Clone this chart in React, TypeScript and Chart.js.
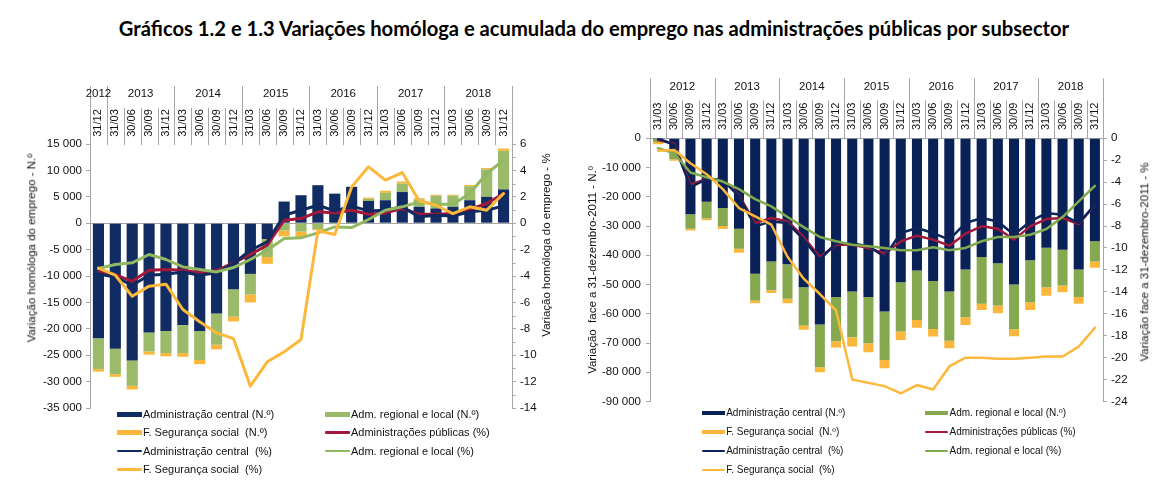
import React, { useEffect, useRef, useMemo } from 'react';
import { Chart, registerables } from 'chart.js';

Chart.register(...registerables);

// ---------------- Left chart: variação homóloga ----------------
const leftDates = ['31/12', '31/03', '30/06', '30/09', '31/12', '31/03', '30/06', '30/09', '31/12', '31/03', '30/06', '30/09', '31/12', '31/03', '30/06', '30/09', '31/12', '31/03', '30/06', '30/09', '31/12', '31/03', '30/06', '30/09', '31/12'];
const leftYears = ['2012', '2013', '2014', '2015', '2016', '2017', '2018'];
const leftYearSpans = [1, 4, 4, 4, 4, 4, 4];
const leftCentralN = [-21800, -23800, -26000, -20700, -20400, -19300, -20400, -17100, -12500, -9600, -3000, 4100, 5300, 7200, 5600, 6900, 4200, 4350, 5900, 3100, 2800, 3100, 4350, 5000, 6400];
const leftRegionalN = [-5800, -4800, -4800, -3600, -4200, -5300, -5500, -5900, -5200, -3900, -3400, -1400, -1600, -1100, -200, 0, 400, 1400, 1600, 1400, 2400, 2100, 2650, 5200, 7300];
const leftSSN = [-500, -500, -700, -600, -600, -700, -800, -900, -900, -1500, -1300, -1100, -1000, -200, 0, 0, 250, 400, 400, 250, 200, 200, 250, 250, 450];
const leftPubPct = [-3.7, -3.9, -4.4, -3.56, -3.5, -3.56, -3.76, -3.6, -3.0, -2.37, -1.67, 0.23, 0.35, 0.86, 0.78, 0.98, 0.68, 0.78, 1.11, 0.68, 0.68, 0.73, 1.04, 1.49, 2.25];
const leftCentralPct = [-3.85, -4.07, -4.7, -3.94, -3.86, -3.69, -3.94, -3.76, -3.05, -2.05, -1.41, 0.6, 0.98, 1.36, 0.93, 1.29, 0.93, 0.98, 1.24, 0.48, 0.61, 0.55, 0.86, 0.98, 1.31];
const leftRegionalPct = [-3.43, -3.13, -3.0, -2.37, -2.75, -3.31, -3.51, -3.69, -3.36, -2.75, -2.05, -1.16, -1.11, -0.73, -0.28, -0.33, 0.28, 0.98, 1.24, 1.62, 1.44, 1.44, 2.25, 3.76, 4.77];
const leftSSPct = [-3.4, -3.94, -5.53, -4.77, -4.62, -6.54, -7.47, -8.31, -8.74, -12.35, -10.5, -9.75, -8.81, -0.58, -0.86, 2.75, 4.27, 3.26, 3.84, 1.69, 1.36, 0.73, 1.24, 0.98, 2.25];

// ---------------- Right chart: variação acumulada ----------------
const rightDates = ['31/03', '30/06', '30/09', '31/12', '31/03', '30/06', '30/09', '31/12', '31/03', '30/06', '30/09', '31/12', '31/03', '30/06', '30/09', '31/12', '31/03', '30/06', '30/09', '31/12', '31/03', '30/06', '30/09', '31/12', '31/03', '30/06', '30/09', '31/12'];
const rightYears = ['2012', '2013', '2014', '2015', '2016', '2017', '2018'];
const rightYearSpans = [4, 4, 4, 4, 4, 4, 4];
const rightCentralN = [-300, -4200, -26000, -21700, -23800, -30900, -46300, -42100, -43100, -50900, -63700, -54300, -52400, -54300, -59200, -49200, -45200, -48800, -52400, -44900, -40600, -42700, -50000, -41700, -37400, -38100, -44900, -35200];
const rightRegionalN = [-1000, -3000, -4900, -5700, -6200, -6900, -9200, -9900, -11800, -13100, -14600, -15100, -15600, -15800, -16600, -16900, -16900, -16400, -16800, -16300, -16000, -14500, -15300, -14400, -13500, -12200, -9400, -6900];
const rightSSN = [-700, -500, -600, -600, -1000, -1300, -900, -900, -1500, -1500, -1700, -2100, -3200, -3100, -2800, -2900, -2700, -2600, -2600, -2600, -2100, -2600, -2400, -2600, -2900, -2300, -2300, -2200];
const rightPubPct = [-0.15, -0.5, -4.24, -3.7, -3.8, -5.2, -7.73, -7.27, -7.58, -9.0, -10.85, -9.7, -9.7, -10.0, -10.5, -9.4, -8.88, -9.24, -9.79, -8.7, -8.03, -8.24, -9.24, -8.03, -7.36, -7.27, -7.82, -6.06];
const rightCentralPct = [0, -0.6, -4.45, -3.73, -3.79, -5.3, -8.03, -7.58, -7.73, -9.24, -11.06, -9.55, -9.6, -9.85, -10.8, -8.64, -8.18, -8.64, -9.24, -7.73, -7.27, -7.58, -8.79, -7.58, -6.82, -6.97, -7.73, -6.06];
const rightRegionalPct = [-0.9, -1.36, -3.12, -3.55, -3.94, -4.64, -5.55, -6.21, -7.18, -8.1, -9.0, -9.39, -9.7, -9.85, -10.0, -10.2, -10.2, -9.94, -10.2, -10.0, -9.39, -9.0, -9.0, -8.79, -8.27, -7.18, -5.76, -4.34];
const rightSSPct = [-1.13, -1.06, -2.27, -3.27, -4.64, -6.36, -7.12, -7.88, -10.8, -12.8, -14.2, -15.7, -22.0, -22.3, -22.6, -23.25, -22.5, -22.9, -20.8, -20.0, -20.0, -20.1, -20.1, -20.0, -19.9, -19.9, -19.0, -17.27];

const TITLE = 'Gráficos 1.2 e 1.3 Variações homóloga e acumulada do emprego nas administrações públicas por subsector';
const LABELS_N = ['Administração central (N.º)', 'Adm. regional e local (N.º)', 'F. Segurança social  (N.º)'];
const LABELS_PCT = ['Administrações públicas (%)', 'Administração central  (%)', 'Adm. regional e local (%)', 'F. Segurança social  (%)'];

const FONT = "'Liberation Sans', Arial, sans-serif";
const AXIS_GRAY = '#a6a6a6';
const TEXT = '#111';

const LEFT_COLORS = { navy: '#112b63', green: '#9bbb6a', orange: '#fbb73c', red: '#a3183a', navyLine: '#0f2a5f', greenLine: '#93b862', yellow: '#fcb83a' };
const RIGHT_COLORS = { navy: '#0a2158', green: '#86a84f', orange: '#fbb73c', red: '#a3183a', navyLine: '#0c2459', greenLine: '#80aa4e', yellow: '#fcb83a' };

const fmtThousands = (v: number) => {
  const a = Math.abs(Math.round(v)).toString().replace(/\B(?=(\d{3})+(?!\d))/g, ' ');
  return (v < 0 ? '-' : '') + a;
};

const headerPlugin = {
  id: 'header',
  afterDraw(chart: any, _args: any, o: any) {
    const { ctx, chartArea } = chart;
    const xs = chart.scales.x;
    const n = o.dates.length;
    const c0 = xs.getPixelForValue(0);
    const step = xs.getPixelForValue(1) - c0;
    const left = c0 - step / 2;
    const top = chartArea.top;
    ctx.save();
    ctx.strokeStyle = AXIS_GRAY;
    ctx.lineWidth = 1;
    const starts = new Set<number>();
    let acc = 0;
    starts.add(0);
    o.spans.forEach((s: number) => { acc += s; starts.add(acc); });
    for (let b = 0; b <= n; b++) {
      const x = Math.round(left + b * step) + 0.5;
      const y0 = starts.has(b) ? top - o.longH : top - o.shortH;
      ctx.beginPath();
      ctx.moveTo(x, y0);
      ctx.lineTo(x, top + 1);
      ctx.stroke();
    }
    ctx.fillStyle = TEXT;
    ctx.textAlign = 'center';
    ctx.textBaseline = 'middle';
    ctx.font = o.yearFont;
    acc = 0;
    o.years.forEach((yr: string, k: number) => {
      const s = o.spans[k];
      ctx.fillText(yr, left + (acc + s / 2) * step, top - o.yearY);
      acc += s;
    });
    ctx.font = o.dateFont;
    o.dates.forEach((d: string, i: number) => {
      const cx = xs.getPixelForValue(i);
      ctx.save();
      ctx.translate(cx, top - o.dateY);
      ctx.rotate(-Math.PI / 2);
      ctx.fillText(d, 0, 0);
      ctx.restore();
    });
    if (o.minorY2) {
      const y2 = chart.scales.y2;
      const x = Math.round(chartArea.right) + 0.5;
      for (let v = y2.min; v <= y2.max; v++) {
        if (Math.abs(v % 2) === 1) {
          const y = Math.round(y2.getPixelForValue(v)) + 0.5;
          ctx.beginPath();
          ctx.moveTo(x, y);
          ctx.lineTo(x + 3, y);
          ctx.stroke();
        }
      }
    }
    ctx.restore();
  },
};

function buildConfig(p: any) {
  const c = p.colors;
  const line = (label: string, data: number[], color: string, order: number) => ({
    type: 'line', label, data, yAxisID: 'y2', borderColor: color, backgroundColor: color,
    borderWidth: p.lineWidth, pointRadius: 0, tension: 0, fill: false, order,
    borderJoinStyle: 'round', borderCapStyle: 'round',
  });
  const bar = (label: string, data: number[], color: string) => ({
    type: 'bar', label, data, yAxisID: 'y', backgroundColor: color, borderWidth: 0, order: 10, stack: 'n',
    barPercentage: p.barPct, categoryPercentage: 1,
  });
  const tickFont = { family: FONT, size: 11.5 };
  return {
    type: 'bar',
    data: {
      labels: p.dates,
      datasets: [
        bar(LABELS_N[0], p.centralN, c.navy),
        bar(LABELS_N[1], p.regionalN, c.green),
        bar(LABELS_N[2], p.ssN, c.orange),
        line(LABELS_PCT[0], p.pubPct, c.red, 4),
        line(LABELS_PCT[1], p.centralPct, c.navyLine, 3),
        line(LABELS_PCT[2], p.regionalPct, c.greenLine, 2),
        line(LABELS_PCT[3], p.ssPct, c.yellow, 1),
      ],
    },
    options: {
      responsive: false,
      animation: false,
      layout: { padding: { top: p.padTop, bottom: p.padBottom, left: 0, right: 0 } },
      plugins: {
        legend: { display: false },
        tooltip: { enabled: false },
        header: {
          dates: p.dates, years: p.years, spans: p.spans,
          longH: p.longH, shortH: p.shortH, yearY: p.yearY, dateY: p.dateY,
          yearFont: `11.5px ${FONT}`, dateFont: `11px ${FONT}`, minorY2: p.minorY2,
        },
      },
      scales: {
        x: { type: 'category', display: false, stacked: true, offset: true },
        y: {
          position: 'left', stacked: true, min: p.yMin, max: p.yMax,
          ticks: { stepSize: p.yStep, callback: (v: number) => fmtThousands(v), font: tickFont, color: TEXT, padding: p.leftPad },
          grid: {
            color: (ctx: any) => (ctx.tick && ctx.tick.value === 0 ? AXIS_GRAY : 'rgba(0,0,0,0)'),
            tickColor: AXIS_GRAY, tickLength: 4, lineWidth: 1,
          },
          border: { display: true, color: AXIS_GRAY },
          afterFit: (s: any) => { s.width = p.leftW; },
        },
        y2: {
          position: 'right', min: p.y2Min, max: p.y2Max,
          ticks: { stepSize: 2, font: tickFont, color: TEXT, padding: 4 },
          grid: { drawOnChartArea: false, color: AXIS_GRAY, tickColor: AXIS_GRAY, tickLength: 4 },
          border: { display: true, color: AXIS_GRAY },
          afterFit: (s: any) => { s.width = p.rightW; },
        },
      },
    },
    plugins: [headerPlugin],
  };
}

function ChartCanvas({ params, left, top, width, height }: any) {
  const ref = useRef<HTMLCanvasElement>(null);
  useEffect(() => {
    const chart = new Chart(ref.current as HTMLCanvasElement, buildConfig(params) as any);
    return () => chart.destroy();
  }, []);
  return <canvas ref={ref} width={width} height={height} style={{ position: 'absolute', left, top, width, height }} />;
}

function Legend({ colors, cols, rows, sampleW, textGap, fontSize, barH, lineH }: any) {
  const items = [
    { label: LABELS_N[0], color: colors.navy, kind: 'bar' },
    { label: LABELS_N[1], color: colors.green, kind: 'bar' },
    { label: LABELS_N[2], color: colors.orange, kind: 'bar' },
    { label: LABELS_PCT[0], color: colors.red, kind: 'line' },
    { label: LABELS_PCT[1], color: colors.navyLine, kind: 'line' },
    { label: LABELS_PCT[2], color: colors.greenLine, kind: 'line' },
    { label: LABELS_PCT[3], color: colors.yellow, kind: 'line' },
  ];
  return (
    <>
      {items.map((it, k) => {
        const x = cols[k % 2];
        const y = rows[Math.floor(k / 2)];
        const h = it.kind === 'bar' ? barH : lineH;
        return (
          <React.Fragment key={k}>
            <div style={{ position: 'absolute', left: x, top: y - h / 2, width: sampleW, height: h, background: it.color, borderRadius: it.kind === 'line' ? 1 : 0 }} />
            <div style={{ position: 'absolute', left: x + textGap, top: y, transform: 'translateY(-50%)', font: `${fontSize}px ${FONT}`, whiteSpace: 'pre', color: TEXT, lineHeight: 1 }}>{it.label}</div>
          </React.Fragment>
        );
      })}
    </>
  );
}

function AxisTitle({ text, cx, cy }: any) {
  return (
    <div style={{ position: 'absolute', left: cx, top: cy, transform: 'translate(-50%, -50%) rotate(-90deg)', font: `11.5px ${FONT}`, whiteSpace: 'pre', color: TEXT, lineHeight: 1 }}>{text}</div>
  );
}

const TITLE_FONT = "Lato, 'Open Sans', sans-serif";

export default function App() {
  const titleSize = useMemo(() => {
    try {
      const c = document.createElement('canvas').getContext('2d') as CanvasRenderingContext2D;
      c.font = `bold 100px ${TITLE_FONT}`;
      const w = c.measureText(TITLE).width;
      return (100 * 952) / w;
    } catch (e) {
      return 17;
    }
  }, []);

  const leftParams = {
    colors: LEFT_COLORS, dates: leftDates, years: leftYears, spans: leftYearSpans,
    centralN: leftCentralN, regionalN: leftRegionalN, ssN: leftSSN,
    pubPct: leftPubPct, centralPct: leftCentralPct, regionalPct: leftRegionalPct, ssPct: leftSSPct,
    yMin: -35000, yMax: 15000, yStep: 5000, y2Min: -14, y2Max: 6,
    leftW: 90, rightW: 58, padTop: 64, padBottom: 17, leftPad: 4,
    longH: 58, shortH: 36, yearY: 50, dateY: 21, lineWidth: 3, barPct: 0.66, minorY2: true,
  };
  const rightParams = {
    colors: RIGHT_COLORS, dates: rightDates, years: rightYears, spans: rightYearSpans,
    centralN: rightCentralN, regionalN: rightRegionalN, ssN: rightSSN,
    pubPct: rightPubPct, centralPct: rightCentralPct, regionalPct: rightRegionalPct, ssPct: rightSSPct,
    yMin: -90000, yMax: 0, yStep: 10000, y2Min: -24, y2Max: 0,
    leftW: 80, rightW: 63, padTop: 68.3, padBottom: 23.5, leftPad: 5,
    longH: 60, shortH: 38, yearY: 51, dateY: 22, lineWidth: 2.5, barPct: 0.62, minorY2: false,
  };

  return (
    <div style={{ position: 'absolute', left: 0, top: 0, width: 1166, height: 483, background: '#fff', overflow: 'hidden' }}>
      <div style={{ position: 'absolute', left: 594, top: 28, transform: 'translate(-50%, -50%)', font: `bold ${titleSize}px ${TITLE_FONT}`, whiteSpace: 'nowrap', color: '#000', lineHeight: 1 }}>{TITLE}</div>
      <ChartCanvas params={leftParams} left={0} top={80} width={570} height={345} />
      <ChartCanvas params={rightParams} left={570} top={70} width={596} height={355} />
      <AxisTitle text="Variação homóloga do emprego - N.º" cx={32} cy={247.5} />
      <AxisTitle text="Variação homóloga do emprego - %" cx={547} cy={245} />
      <AxisTitle text="Variação  face a 31-dezembro-2011 - N.º" cx={593} cy={270} />
      <AxisTitle text="Variação face a 31-dezembro-2011 - %" cx={1145} cy={261.5} />
      <Legend colors={LEFT_COLORS} cols={[117, 325]} rows={[414.3, 432.3, 451, 469.3]} sampleW={25} textGap={26} fontSize={11} barH={5} lineH={2.5} />
      <Legend colors={RIGHT_COLORS} cols={[701.7, 925]} rows={[413.3, 431.7, 450.7, 470]} sampleW={23} textGap={24.5} fontSize={10} barH={4} lineH={2} />
    </div>
  );
}
